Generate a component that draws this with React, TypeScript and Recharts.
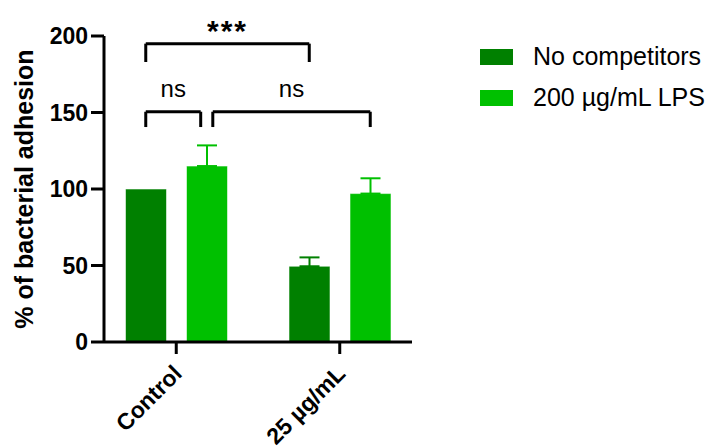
import React from 'react';
import {
  BarChart,
  Bar,
  XAxis,
  YAxis,
  ErrorBar,
  Legend,
  ReferenceLine,
  ReferenceDot,
  Label,
} from 'recharts';

// ---------- data ----------
const categories = ['Control', '25 µg/mL'];
const seriesNames = ['No competitors', '200 µg/mL LPS'];
const noCompetitors = [100, 49.5];
const noCompetitorsErr = [null, 5.8];
const lpsValues = [115, 97];
const lpsErr = [13.5, 10];
const yTicks = [0, 50, 100, 150, 200];

// significance annotations (numeric x: category index, offsets are bar centres)
const barOffset = 0.1865; // half distance between paired bar centres, in category units
const bracketGap = 0.037;
const starLabel = '***';
const nsLabel = 'ns';
const starBracketY = [183, 195];
const nsBracketY = [140.5, 150.5];
const starTextY = 203.5;
const nsTextY = 166;

const DARK = '#008000';
const LIGHT = '#00C000';
const FONT = '"Liberation Sans", Arial, sans-serif';

const data = categories.map((c, i) => ({
  name: c,
  idx: i,
  none: noCompetitors[i],
  noneErr: noCompetitorsErr[i] == null ? null : [0, noCompetitorsErr[i]],
  lps: lpsValues[i],
  lpsErr: [0, lpsErr[i]],
}));

const brackets = [
  { x1: 0 - barOffset, x2: 1 - barOffset, y: starBracketY, label: starLabel, ty: starTextY },
  { x1: 0 - barOffset, x2: 0 + barOffset - bracketGap, y: nsBracketY, label: nsLabel, ty: nsTextY },
  { x1: 0 + barOffset + bracketGap, x2: 1 + barOffset, y: nsBracketY, label: nsLabel, ty: nsTextY },
];

const XTick = (props: any) => {
  const { x, y, payload } = props;
  return (
    <g transform={`translate(${x + 7},${y + 19})`}>
      <text
        transform="rotate(-45)"
        textAnchor="end"
        x={0}
        y={0}
        fontFamily={FONT}
        fontWeight="bold"
        fontSize={23}
        fill="#000"
      >
        {payload.value}
      </text>
    </g>
  );
};

const LegendContent = () => (
  <div style={{ fontFamily: FONT, fontSize: 25, color: '#000' }}>
    {seriesNames.map((n, i) => (
      <div
        key={n}
        style={{ display: 'flex', alignItems: 'center', height: 41, whiteSpace: 'nowrap' }}
      >
        <span
          style={{
            display: 'inline-block',
            width: 33,
            height: 16,
            background: i === 0 ? DARK : LIGHT,
            marginRight: 20,
          }}
        />
        <span>{n}</span>
      </div>
    ))}
  </div>
);

const YLabel = (props: any) => {
  const { viewBox } = props;
  const cx = viewBox.x + 24;
  const cy = viewBox.y + viewBox.height / 2;
  return (
    <text
      x={cx}
      y={cy}
      transform={`rotate(-90 ${cx} ${cy})`}
      textAnchor="middle"
      dominantBaseline="central"
      fontFamily={FONT}
      fontWeight="bold"
      fontSize={25}
      fill="#000"
    >
      % of bacterial adhesion
    </text>
  );
};

export default function App() {
  return (
    <div style={{ position: 'absolute', left: 0, top: 0, width: 707, height: 448, background: '#fff' }}>
      <BarChart
        width={707}
        height={448}
        data={data}
        margin={{ top: 36, right: 295, bottom: 105, left: 0 }}
        barSize={41}
        barGap={20}
      >
        <XAxis
          dataKey="name"
          padding={{ left: -9.5, right: -9.5 }}
          tick={<XTick />}
          tickSize={12}
          axisLine={{ stroke: '#000', strokeWidth: 3 }}
          tickLine={{ stroke: '#000', strokeWidth: 3 }}
          interval={0}
          height={1}
        />
        <XAxis
          xAxisId="num"
          dataKey="idx"
          type="number"
          domain={[-0.5, 1.5]}
          allowDataOverflow
          padding={{ left: -9.5, right: -9.5 }}
          height={0}
          hide
        />
        <YAxis
          domain={[0, 200]}
          ticks={yTicks}
          width={104}
          tickSize={13}
          tickMargin={3}
          axisLine={{ stroke: '#000', strokeWidth: 3 }}
          tickLine={{ stroke: '#000', strokeWidth: 3 }}
          tick={{ fontFamily: FONT, fontWeight: 'bold', fontSize: 23, fill: '#000' }}
          allowDataOverflow
        >
          <Label content={<YLabel />} position="center" />
        </YAxis>
        <Legend
          layout="vertical"
          verticalAlign="middle"
          align="center"
          wrapperStyle={{ top: 36, left: 480, width: 227 }}
          content={<LegendContent />}
        />
        <Bar
          dataKey="none"
          name={seriesNames[0]}
          fill={DARK}
          stroke="rgba(255,255,255,0.55)"
          strokeWidth={1}
          isAnimationActive={false}
        >
          <ErrorBar dataKey="noneErr" width={10} stroke={DARK} strokeWidth={2} direction="y" />
        </Bar>
        <Bar
          dataKey="lps"
          name={seriesNames[1]}
          fill={LIGHT}
          stroke="rgba(255,255,255,0.55)"
          strokeWidth={1}
          isAnimationActive={false}
        >
          <ErrorBar dataKey="lpsErr" width={10} stroke={LIGHT} strokeWidth={2} direction="y" />
        </Bar>
        {brackets.map((b, i) => (
          <ReferenceLine
            key={`h${i}`}
            xAxisId="num"
            ifOverflow="visible"
            segment={[
              { x: b.x1, y: b.y[1] },
              { x: b.x2, y: b.y[1] },
            ]}
            stroke="#000"
            strokeWidth={3}
          />
        ))}
        {brackets.map((b, i) => (
          <ReferenceLine
            key={`l${i}`}
            xAxisId="num"
            ifOverflow="visible"
            segment={[
              { x: b.x1, y: b.y[0] },
              { x: b.x1, y: b.y[1] },
            ]}
            stroke="#000"
            strokeWidth={3}
          />
        ))}
        {brackets.map((b, i) => (
          <ReferenceLine
            key={`r${i}`}
            xAxisId="num"
            ifOverflow="visible"
            segment={[
              { x: b.x2, y: b.y[0] },
              { x: b.x2, y: b.y[1] },
            ]}
            stroke="#000"
            strokeWidth={3}
          />
        ))}
        {brackets.map((b, i) => (
          <ReferenceDot
            key={`t${i}`}
            xAxisId="num"
            x={(b.x1 + b.x2) / 2}
            y={b.ty}
            r={0}
            fill="none"
            stroke="none"
            ifOverflow="visible"
            label={{
              value: b.label,
              position: 'center',
              fontFamily: FONT,
              fontSize: b.label === starLabel ? 30 : 24,
              fontWeight: b.label === starLabel ? 'bold' : 'normal',
              fill: '#000',
              letterSpacing: b.label === starLabel ? 2 : 0,
            }}
          />
        ))}
      </BarChart>
    </div>
  );
}
